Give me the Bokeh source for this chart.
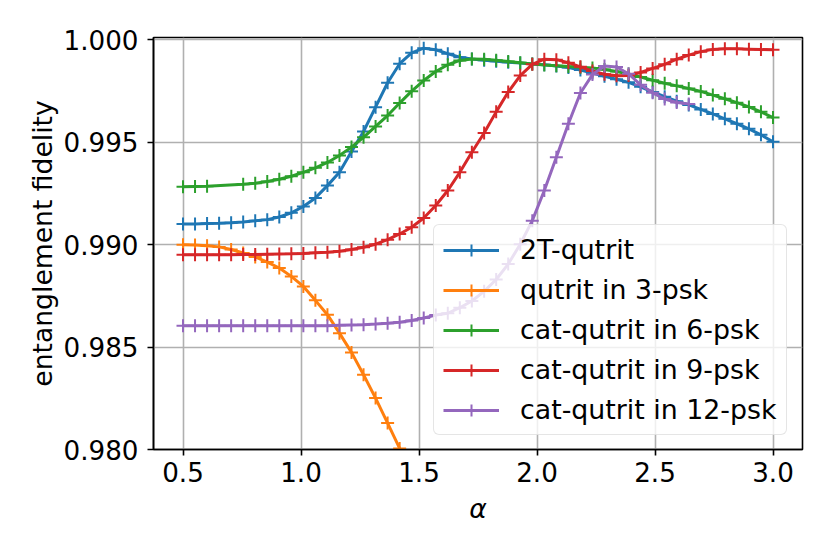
from bokeh.plotting import figure
from bokeh.models import Range1d, FixedTicker, Legend, LegendItem
from bokeh.embed import file_html
from bokeh.resources import INLINE

# ---- data ----
alpha = [0.5, 0.551, 0.602, 0.653, 0.704, 0.755, 0.806, 0.857, 0.908, 0.959,
         1.010, 1.061, 1.112, 1.163, 1.214, 1.265, 1.316, 1.367, 1.418, 1.469,
         1.520, 1.571, 1.622, 1.673, 1.724, 1.776, 1.827, 1.878, 1.929, 1.980,
         2.031, 2.082, 2.133, 2.184, 2.235, 2.286, 2.337, 2.388, 2.439, 2.490,
         2.541, 2.592, 2.643, 2.694, 2.745, 2.796, 2.847, 2.898, 2.949, 3.0]

fid_2t = [0.99101, 0.99101, 0.99103, 0.99104, 0.99107, 0.99111, 0.99116, 0.99122, 0.99135, 0.99155,
          0.99186, 0.99228, 0.99288, 0.99353, 0.99454, 0.99552, 0.99671, 0.99790, 0.99883, 0.99936,
          0.99959, 0.99951, 0.99932, 0.99915, 0.99906, 0.99900, 0.99895, 0.99890, 0.99886, 0.99882,
          0.99878, 0.99872, 0.99864, 0.99852, 0.99838, 0.99822, 0.99807, 0.99792, 0.99770, 0.99745,
          0.99722, 0.99700, 0.99682, 0.99660, 0.99638, 0.99614, 0.99590, 0.99565, 0.99536, 0.99502]

alpha_3psk = alpha[:21]
fid_3psk = [0.99000, 0.98998, 0.98995, 0.98989, 0.98976, 0.98959, 0.98940, 0.98915, 0.98886, 0.98845,
            0.98796, 0.98728, 0.98658, 0.98568, 0.98474, 0.98365, 0.98251, 0.98129, 0.98005, 0.97877,
            0.97743]

alpha_6psk = alpha[:3] + alpha[5:]
fid_6psk = [0.99283, 0.99284, 0.99285,
            0.99295, 0.99300, 0.99308, 0.99319, 0.99334, 0.99353, 0.99375, 0.99401, 0.99435, 0.99476,
            0.99524, 0.99577, 0.99630, 0.99691, 0.99749, 0.99801, 0.99845, 0.99878, 0.99899, 0.99906,
            0.99905, 0.99900, 0.99894, 0.99888, 0.99882, 0.99877, 0.99873, 0.99869, 0.99866, 0.99862,
            0.99855, 0.99845, 0.99833, 0.99818, 0.99802, 0.99788, 0.99775, 0.99762, 0.99748, 0.99730,
            0.99712, 0.99693, 0.99672, 0.99648, 0.99620]

fid_9psk = [0.98951, 0.98951, 0.98951, 0.98951, 0.98951, 0.98952, 0.98952, 0.98953, 0.98954, 0.98955,
            0.98957, 0.98960, 0.98963, 0.98968, 0.98976, 0.98987, 0.99002, 0.99024, 0.99052, 0.99085,
            0.99130, 0.99191, 0.99264, 0.99353, 0.99451, 0.99545, 0.99648, 0.99745, 0.99825, 0.99880,
            0.99905, 0.99903, 0.99888, 0.99868, 0.99847, 0.99832, 0.99824, 0.99826, 0.99840, 0.99860,
            0.99880, 0.99905, 0.99925, 0.99942, 0.99953, 0.99956, 0.99956, 0.99954, 0.99952, 0.99951]

alpha_12psk = alpha[:43]
fid_12psk = [0.98604, 0.98604, 0.98604, 0.98604, 0.98604, 0.98604, 0.98604, 0.98604, 0.98604, 0.98604,
             0.98604, 0.98604, 0.98604, 0.98606, 0.98608, 0.98609, 0.98612, 0.98616, 0.98621, 0.98630,
             0.98642, 0.98656, 0.98665, 0.98692, 0.98725, 0.98772, 0.98830, 0.98905, 0.99002, 0.99117,
             0.99264, 0.99427, 0.99590, 0.99740, 0.99830, 0.99872, 0.99867, 0.99834, 0.99780, 0.99741,
             0.99711, 0.99694, 0.99687]

labels = ["2T-qutrit", "qutrit in 3-psk", "cat-qutrit in 6-psk",
          "cat-qutrit in 9-psk", "cat-qutrit in 12-psk"]
colors = ["#1f77b4", "#ff7f0e", "#2ca02c", "#d62728", "#9467bd"]

x_ticks = [0.5, 1.0, 1.5, 2.0, 2.5, 3.0]
x_tick_labels = ["0.5", "1.0", "1.5", "2.0", "2.5", "3.0"]
y_ticks = [0.980, 0.985, 0.990, 0.995, 1.000]
y_tick_labels = ["0.980", "0.985", "0.990", "0.995", "1.000"]

series = [(alpha, fid_2t), (alpha_3psk, fid_3psk), (alpha_6psk, fid_6psk),
          (alpha, fid_9psk), (alpha_12psk, fid_12psk)]

# ---- figure ----
FONT = "DejaVu Sans"
p = figure(width=814, height=538,
           x_range=Range1d(0.375, 3.125), y_range=Range1d(0.98, 1.00011),
           output_backend="svg", toolbar_location=None,
           min_border_left=153, min_border_right=12,
           min_border_top=37, min_border_bottom=89)
p.background_fill_color = "white"
p.border_fill_color = "white"
p.outline_line_color = "black"
p.outline_line_width = 1.6

p.xaxis.ticker = FixedTicker(ticks=x_ticks)
p.yaxis.ticker = FixedTicker(ticks=y_ticks)
p.xaxis.major_label_overrides = dict(zip(x_ticks, x_tick_labels))
p.yaxis.major_label_overrides = dict(zip(y_ticks, y_tick_labels))

for ax in (p.xaxis, p.yaxis):
    ax.axis_line_color = "black"
    ax.axis_line_width = 1.6
    ax.major_tick_out = 6
    ax.major_tick_in = 0
    ax.major_tick_line_width = 1.6
    ax.minor_tick_line_color = None
    ax.major_label_text_font = FONT
    ax.major_label_text_font_size = "26.2px"
    ax.major_label_text_color = "black"
    ax.axis_label_text_font = FONT
    ax.axis_label_text_font_size = "26.6px"
    ax.axis_label_text_color = "black"

p.xaxis.axis_label = "α"
p.xaxis.axis_label_text_font_style = "italic"
p.xaxis.major_label_standoff = 6
p.xaxis.axis_label_standoff = 8
p.yaxis.axis_label = "entanglement fidelity"
p.yaxis.axis_label_text_font_style = "normal"
p.yaxis.major_label_standoff = 9
p.yaxis.axis_label_standoff = 3

p.grid.grid_line_color = "#b0b0b0"
p.grid.grid_line_width = 1.6
p.xgrid.ticker = FixedTicker(ticks=x_ticks)
p.ygrid.ticker = FixedTicker(ticks=y_ticks)

items = []
for (xs, ys), lab, col in zip(series, labels, colors):
    r1 = p.line(xs, ys, line_color=col, line_width=3)
    r2 = p.scatter(xs, ys, marker="cross", size=13, line_color=col, line_width=2)
    items.append(LegendItem(label=lab, renderers=[r1, r2]))

legend = Legend(items=items, location=(280, 14))
legend.label_text_font = FONT
legend.label_text_font_size = "26.8px"
legend.label_text_color = "black"
legend.label_height = 30
legend.glyph_height = 30
legend.glyph_width = 56
legend.label_standoff = 21
legend.spacing = 9
legend.padding = 9
legend.margin = 0
legend.border_line_color = "#cccccc"
legend.border_line_width = 1.6
legend.background_fill_color = "white"
legend.background_fill_alpha = 0.8
try:
    legend.border_radius = 6
except Exception:
    pass
p.add_layout(legend)

open("out.html", "w").write(file_html(p, INLINE))
